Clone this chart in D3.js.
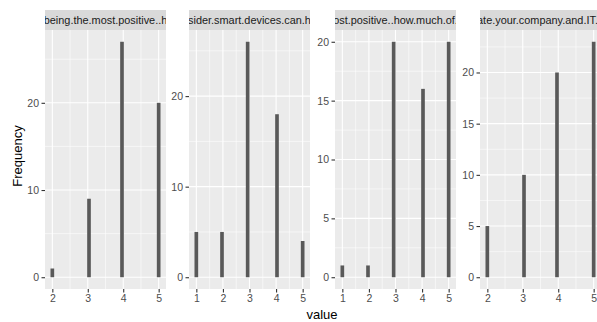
<!DOCTYPE html>
<html><head><meta charset="utf-8">
<script src="https://cdn.jsdelivr.net/npm/d3@7"></script>
<style>
body{margin:0;background:#fff;}
svg{display:block;font-family:"Liberation Sans",Arial,sans-serif;}
</style></head>
<body><svg id="c" width="597" height="322"></svg>
<script>
// ---- data ----
const stripLabels = ["being.the.most.positive..h", "sider.smart.devices.can.h", "ost.positive..how.much.of.", "ate.your.company.and.IT."];
const values1 = [2, 3, 4, 5];       const counts1 = [1, 9, 27, 20];
const values2 = [1, 2, 3, 4, 5];    const counts2 = [5, 5, 26, 18, 4];
const values3 = [1, 2, 3, 4, 5];    const counts3 = [1, 1, 20, 16, 20];
const values4 = [2, 3, 4, 5];       const counts4 = [5, 10, 20, 23];
const xTicks1 = [2, 3, 4, 5], xTicks2 = [1, 2, 3, 4, 5], xTicks3 = [1, 2, 3, 4, 5], xTicks4 = [2, 3, 4, 5];
const yTicks1 = [0, 10, 20], yTicks2 = [0, 10, 20], yTicks3 = [0, 5, 10, 15, 20], yTicks4 = [0, 5, 10, 15, 20];
const xTitle = "value", yTitle = "Frequency";
const bins = 30;

const panels = [
  {label: stripLabels[0], values: values1, counts: counts1, xt: xTicks1, yt: yTicks1, left: 45, tx: 0},
  {label: stripLabels[1], values: values2, counts: counts2, xt: xTicks2, yt: yTicks2, left: 189, tx: 0},
  {label: stripLabels[2], values: values3, counts: counts3, xt: xTicks3, yt: yTicks3, left: 335, tx: 0},
  {label: stripLabels[3], values: values4, counts: counts4, xt: xTicks4, yt: yTicks4, left: 480, tx: -3},
];

const svg = d3.select("#c");
const W = 121, pTop = 30, pBottom = 289, stripTop = 10;

function minors(majors, lo, hi) {
  const step = majors[1] - majors[0];
  const out = [];
  for (let m = majors[0] - step / 2; m <= hi; m += step) if (m >= lo && !majors.includes(m)) out.push(m);
  return out;
}

panels.forEach((p, i) => {
  const xmin = d3.min(p.values), xmax = d3.max(p.values);
  const bw = (xmax - xmin) / (bins - 1);
  const origin = xmin - bw / 2;
  const bars = p.values.map((v, j) => {
    const k = Math.ceil((v - origin) / bw - 1e-7) - 1;
    return {x0: origin + k * bw, x1: origin + (k + 1) * bw, n: p.counts[j]};
  });
  const dlo = xmin - bw / 2, dhi = xmax + bw / 2, ex = (dhi - dlo) * 0.05;
  const x = d3.scaleLinear().domain([dlo - ex, dhi + ex]).range([p.left, p.left + W]);
  const ymax = d3.max(p.counts), ey = ymax * 0.05;
  const y = d3.scaleLinear().domain([-ey, ymax + ey]).range([pBottom, pTop]);

  const g = svg.append("g");
  g.append("rect").attr("x", p.left).attr("y", pTop).attr("width", W).attr("height", pBottom - pTop).attr("fill", "#EBEBEB");
  minors(p.yt, y.domain()[0], y.domain()[1]).forEach(v => g.append("line").attr("x1", p.left).attr("x2", p.left + W).attr("y1", y(v)).attr("y2", y(v)).attr("stroke", "#fff").attr("stroke-width", 0.55));
  minors(p.xt, x.domain()[0], x.domain()[1]).forEach(v => g.append("line").attr("y1", pTop).attr("y2", pBottom).attr("x1", x(v)).attr("x2", x(v)).attr("stroke", "#fff").attr("stroke-width", 0.55));
  p.yt.forEach(v => g.append("line").attr("x1", p.left).attr("x2", p.left + W).attr("y1", y(v)).attr("y2", y(v)).attr("stroke", "#fff").attr("stroke-width", 1.1));
  p.xt.forEach(v => g.append("line").attr("y1", pTop).attr("y2", pBottom).attr("x1", x(v)).attr("x2", x(v)).attr("stroke", "#fff").attr("stroke-width", 1.1));
  g.selectAll("rect.bar").data(bars).join("rect").attr("class", "bar")
    .attr("x", d => x(d.x0)).attr("width", d => x(d.x1) - x(d.x0))
    .attr("y", d => y(d.n)).attr("height", d => y(0) - y(d.n)).attr("fill", "#595959");
  const cid = "clip" + i;
  svg.append("clipPath").attr("id", cid).append("rect").attr("x", p.left).attr("y", stripTop).attr("width", W).attr("height", pTop - stripTop);
  g.append("rect").attr("x", p.left).attr("y", stripTop).attr("width", W).attr("height", pTop - stripTop).attr("fill", "#D9D9D9");
  g.append("text").attr("clip-path", `url(#${cid})`).attr("x", p.left + W / 2 + p.tx).attr("y", 24.3)
    .attr("text-anchor", "middle").attr("font-size", "10.9px").attr("fill", "#1A1A1A").text(p.label);
  const ya = g.append("g").attr("transform", `translate(${p.left},0)`)
    .call(d3.axisLeft(y).tickValues(p.yt).tickSize(3.5).tickPadding(2.5).tickFormat(d3.format("d")));
  const xa = g.append("g").attr("transform", `translate(0,${pBottom})`)
    .call(d3.axisBottom(x).tickValues(p.xt).tickSize(3.5).tickPadding(2).tickFormat(d3.format("d")));
  [ya, xa].forEach(a => {
    a.select(".domain").remove();
    a.selectAll(".tick line").attr("stroke", "#333333").attr("stroke-width", 1.1);
    a.selectAll(".tick text").attr("fill", "#4D4D4D").attr("font-size", "10.5px").attr("font-family", "Liberation Sans, Arial, sans-serif");
  });
});

svg.append("text").attr("x", 322).attr("y", 319).attr("text-anchor", "middle").attr("font-size", "13px").attr("fill", "#000").text(xTitle);
svg.append("text").attr("transform", "translate(22,156) rotate(-90)").attr("text-anchor", "middle").attr("font-size", "13px").attr("fill", "#000").text(yTitle);
</script></body></html>
